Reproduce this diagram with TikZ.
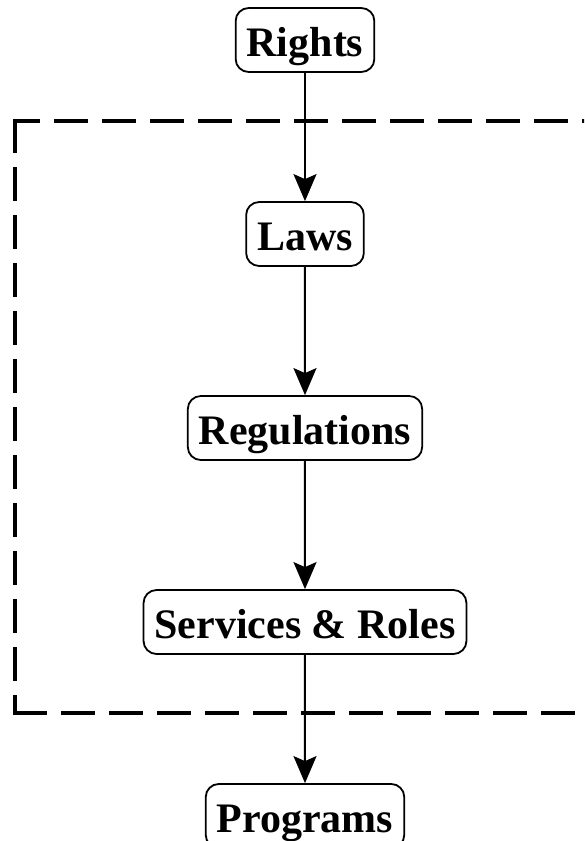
\documentclass[tikz,border=0pt]{standalone}
\usepackage{fontspec}
\setmainfont{Liberation Serif}
\usetikzlibrary{arrows.meta}

\begin{document}
\begin{tikzpicture}[grow=down, level distance=97pt,
  every node/.style={draw, line width=0.9pt, rounded corners=6.5pt,
    font=\fontsize{21}{25}\selectfont\bfseries, inner xsep=5.5pt,
    minimum height=32pt, text height=17pt, text depth=0.5pt},
  edge from parent/.style={draw, line width=1pt,
    -{Stealth[length=13.5pt, width=11.5pt, inset=2.5pt]}},
  frame/.style={line width=2pt, line cap=rect, dash pattern=on 15pt off 9pt}]
\clip (-152.5pt,20pt) rectangle (139.5pt,-400.5pt);
\node (rights) {Rights}
child {
	node (laws) {Laws}
	child {
		node (regulations) {Regulations}
		child {
			node (services) {Services \& Roles}
			child { node (programs) {Programs} }
		}
	}
};
\draw[frame] (-145pt,-40.5pt) -- (-145pt,-336.5pt);
\draw[frame] (-145pt,-336.5pt) -- (150pt,-336.5pt);
\draw[frame, dash phase=3.5pt] (-145pt,-40.5pt) -- (150pt,-40.5pt);
\end{tikzpicture}
\end{document}
